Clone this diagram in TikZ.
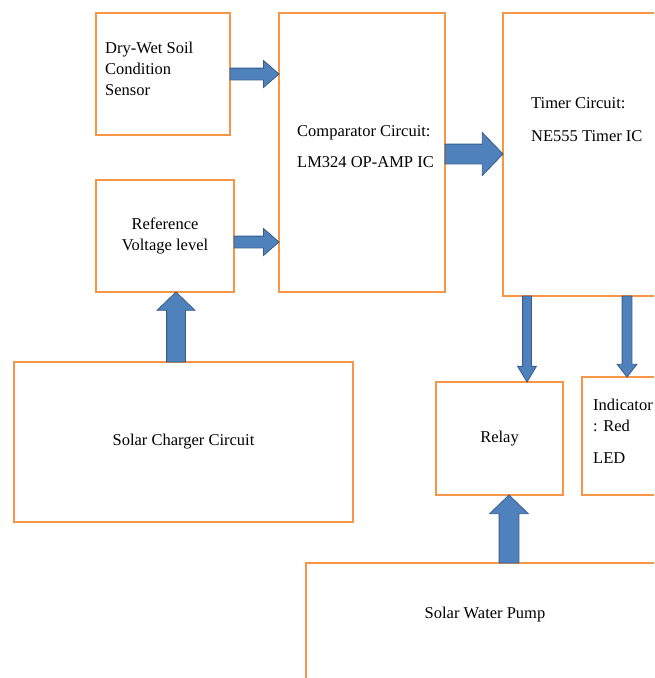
\documentclass[tikz,border=0pt]{standalone}
\usepackage{fontspec}
\setmainfont{Liberation Serif}
\usetikzlibrary{positioning,calc,shapes.arrows}
\definecolor{boxorange}{HTML}{F79646}
\definecolor{arrfill}{HTML}{4F81BD}
\definecolor{arrborder}{HTML}{385D8A}

\begin{document}
\begin{tikzpicture}[
  x=1pt, y=-1pt,
  font=\fontsize{16.5}{21}\selectfont,
  box/.style={draw=boxorange, rectangle, line width=2pt, outer sep=0pt, align=center},
  lbl/.style={inner sep=0pt, align=left, anchor=west},
  blk/.style={single arrow, draw=arrborder, fill=arrfill, line width=0.8pt, inner xsep=0pt, outer sep=0pt, anchor=tail},
]

% ============ page frame (blocks run off the right and bottom) ============
\useasboundingbox (0,0) rectangle (654,678);
\fill[white] (0,0) rectangle (654,678);
\clip (0,0) rectangle (654,678);

% ============ input side ============
\node[box, minimum width=134pt, minimum height=122pt] (sensor) at (163,74) {};
\node[lbl] (sensortext) at (105,69) {Dry-Wet Soil\\Condition\\Sensor};

\node[box, minimum width=138pt, minimum height=112pt] (refv) at (165,236) {Reference\\Voltage level};

\node[box, minimum width=339pt, minimum height=160pt] (charger) at (183.5,442) {Solar Charger Circuit};

% ============ comparator ============
\node[box, minimum width=166pt, minimum height=279pt] (comp) at (362,152.5) {};
\node[lbl] (comptext) at (297,146.5) {Comparator Circuit:\\[10pt]LM324 OP-AMP IC};

% ============ timer ============
\node[box, minimum width=197pt, minimum height=283pt] (timer) at (601.5,154.5) {};
\node[lbl] (timertext) at (531,119.5) {Timer Circuit:\\[12pt]NE555 Timer IC};

% ============ outputs ============
\node[box, minimum width=127pt, minimum height=113pt] (relay) at (499.5,438.5) {Relay};

\node[box, minimum width=118pt, minimum height=118pt] (led) at (641,436) {};
\node[lbl] (ledtext) at (593,431) {Indicator\\: Red\\[11pt]LED};

\node[box, minimum width=394pt, minimum height=157pt] (pump) at (503,641.5) {};
\node (pumptext) at (485,615) {Solar Water Pump};

% ===================== ARROWS =====================
% shaft = 2 x inner ysep, head = shaft + 2 x head extend, tail sits on the source box

% sensor and reference into the comparator
\node[blk, minimum height=49pt, inner ysep=5.5pt, single arrow head extend=7.5pt,
      single arrow tip angle=82] (a1) at (sensor.east) {};
\node[blk, minimum height=45pt, inner ysep=5.5pt, single arrow head extend=7.5pt,
      single arrow tip angle=82] (a2) at ($(refv.east)+(0,6)$) {};

% comparator -> timer
\node[blk, minimum height=58pt, inner ysep=9.5pt, single arrow head extend=11.5pt,
      single arrow tip angle=92] (a3) at ($(comp.east)+(0,1.5)$) {};

% timer drives relay and indicator
\node[blk, minimum height=86pt, inner ysep=4pt, single arrow head extend=5pt,
      single arrow tip angle=62, rotate=-90] (a4) at ($(relay.north |- timer.south)+(27.5,0)$) {};
\node[blk, minimum height=81pt, inner ysep=4.5pt, single arrow head extend=5pt,
      single arrow tip angle=76, rotate=-90] (a5) at ($(led.north |- timer.south)+(-14,0)$) {};

% supplies from below
\node[blk, minimum height=70pt, inner ysep=9pt, single arrow head extend=9.5pt,
      single arrow tip angle=92, rotate=90] (a6) at ($(refv.south |- charger.north)+(11,0)$) {};
\node[blk, minimum height=68pt, inner ysep=9.5pt, single arrow head extend=9.5pt,
      single arrow tip angle=92, rotate=90] (a7) at ($(relay.south |- pump.north)+(9.5,0)$) {};

\end{tikzpicture}
\end{document}
